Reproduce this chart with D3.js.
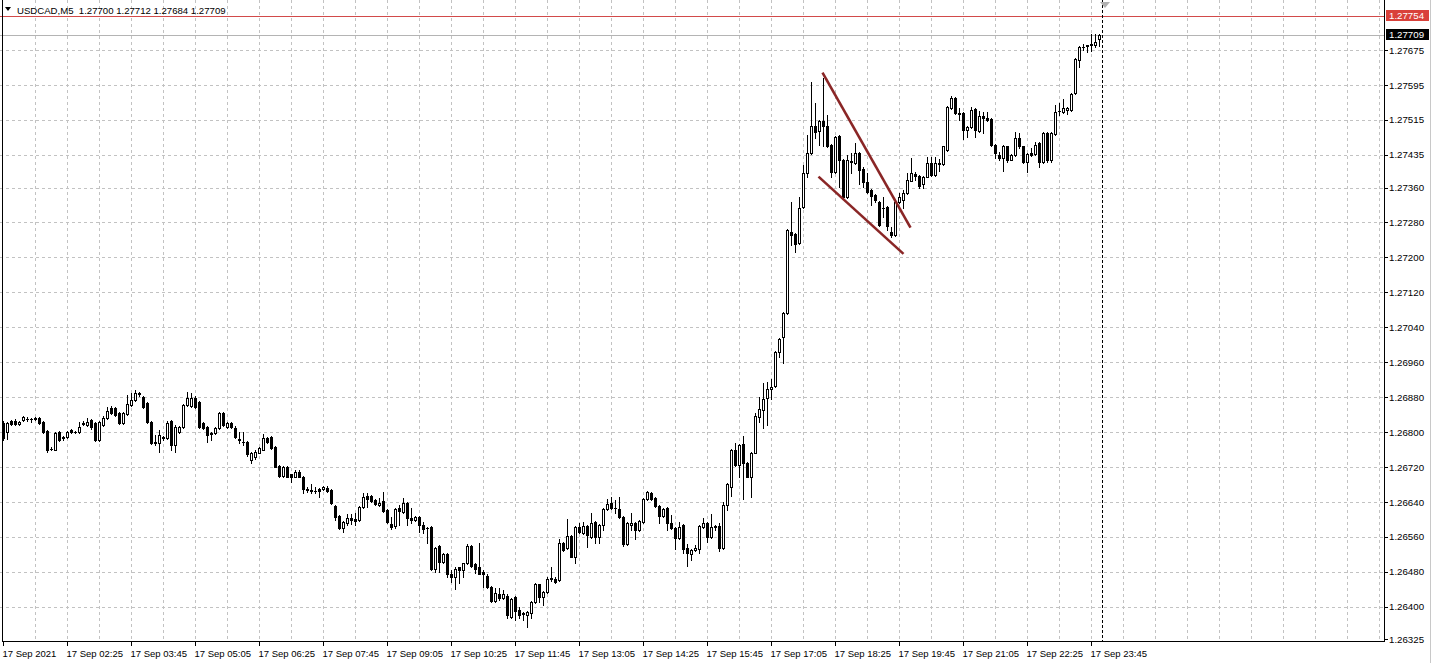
<!DOCTYPE html>
<html><head><meta charset="utf-8">
<script src="https://cdn.jsdelivr.net/npm/d3@7/dist/d3.min.js"></script>
<style>
html,body{margin:0;padding:0;background:#fff;overflow:hidden;}
svg{display:block;font-family:"Liberation Sans",Arial,sans-serif;}
</style></head><body>
<svg id="c" width="1433" height="663"></svg>
<script>
// ---------------- DATA ----------------
const symbol = "USDCAD,M5";
const lastOHLC = [1.27700, 1.27712, 1.27684, 1.27709];
const askPrice = 1.27754;
const bidPrice = 1.27709;

const opens = [
1.26821,1.26800,1.26826,1.26826,1.26819,1.26828,1.26830,1.26830,1.26830,1.26833,
1.26823,1.26803,1.26761,1.26760,1.26800,1.26787,1.26789,1.26805,1.26800,1.26800,
1.26819,1.26817,1.26828,1.26821,1.26782,1.26817,1.26833,1.26856,1.26856,1.26844,
1.26821,1.26842,1.26863,1.26874,1.26888,1.26881,1.26867,1.26823,1.26777,1.26775,
1.26787,1.26787,1.26826,1.26771,1.26800,1.26812,1.26863,1.26860,1.26879,1.26869,
1.26821,1.26812,1.26796,1.26798,1.26810,1.26844,1.26812,1.26821,1.26810,1.26782,
1.26777,1.26777,1.26737,1.26742,1.26753,1.26760,1.26787,1.26789,1.26766,1.26723,
1.26700,1.26721,1.26703,1.26698,1.26709,1.26698,1.26668,1.26666,1.26666,1.26670,
1.26670,1.26673,1.26668,1.26631,1.26608,1.26581,1.26592,1.26603,1.26601,1.26599,
1.26629,1.26654,1.26654,1.26645,1.26634,1.26643,1.26622,1.26590,1.26585,1.26627,
1.26617,1.26638,1.26603,1.26599,1.26606,1.26588,1.26581,1.26583,1.26487,1.26539,
1.26503,1.26520,1.26476,1.26469,1.26490,1.26485,1.26499,1.26539,1.26497,1.26490,
1.26480,1.26471,1.26446,1.26414,1.26430,1.26421,1.26425,1.26377,1.26423,1.26393,
1.26384,1.26382,1.26386,1.26411,1.26451,1.26423,1.26434,1.26464,1.26464,1.26462,
1.26546,1.26535,1.26562,1.26515,1.26583,1.26569,1.26585,1.26560,1.26594,1.26560,
1.26588,1.26624,1.26638,1.26627,1.26624,1.26606,1.26544,1.26588,1.26592,1.26576,
1.26594,1.26647,1.26661,1.26650,1.26631,1.26608,1.26627,1.26592,1.26581,1.26558,
1.26588,1.26535,1.26520,1.26531,1.26533,1.26583,1.26592,1.26560,1.26585,1.26585,
1.26535,1.26634,1.26675,1.26758,1.26725,1.26773,1.26730,1.26698,1.26753,1.26835,
1.26851,1.26879,1.26899,1.26906,1.26984,1.27018,1.27073,1.27259,1.27254,1.27233,
1.27316,1.27394,1.27440,1.27501,1.27490,1.27513,1.27501,1.27458,1.27396,1.27478,
1.27424,1.27339,1.27419,1.27417,1.27440,1.27403,1.27373,1.27355,1.27344,1.27327,
1.27314,1.27316,1.27259,1.27252,1.27327,1.27332,1.27348,1.27376,1.27392,1.27387,
1.27367,1.27385,1.27417,1.27389,1.27415,1.27415,1.27447,1.27543,1.27566,1.27529,
1.27531,1.27492,1.27499,1.27540,1.27490,1.27524,1.27520,1.27517,1.27458,1.27435,
1.27428,1.27454,1.27424,1.27435,1.27474,1.27454,1.27419,1.27440,1.27437,1.27463,
1.27419,1.27485,1.27422,1.27483,1.27536,1.27533,1.27538,1.27538,1.27577,1.27653,
1.27682,1.27685,1.27687,1.27687,1.27700];

const highs = [
1.26826,1.26823,1.26828,1.26830,1.26826,1.26837,1.26835,1.26832,1.26835,1.26835,
1.26826,1.26805,1.26766,1.26800,1.26803,1.26790,1.26803,1.26807,1.26803,1.26823,
1.26826,1.26833,1.26830,1.26823,1.26826,1.26837,1.26858,1.26860,1.26858,1.26846,
1.26846,1.26886,1.26890,1.26897,1.26892,1.26883,1.26869,1.26826,1.26794,1.26805,
1.26791,1.26826,1.26828,1.26817,1.26814,1.26865,1.26892,1.26890,1.26883,1.26872,
1.26823,1.26814,1.26800,1.26812,1.26846,1.26846,1.26823,1.26823,1.26814,1.26800,
1.26800,1.26780,1.26755,1.26758,1.26766,1.26796,1.26789,1.26791,1.26768,1.26725,
1.26723,1.26723,1.26705,1.26712,1.26712,1.26700,1.26675,1.26682,1.26675,1.26673,
1.26677,1.26677,1.26670,1.26634,1.26611,1.26597,1.26613,1.26613,1.26615,1.26631,
1.26661,1.26661,1.26657,1.26647,1.26650,1.26663,1.26624,1.26606,1.26627,1.26634,
1.26650,1.26640,1.26627,1.26608,1.26608,1.26594,1.26583,1.26585,1.26537,1.26542,
1.26522,1.26522,1.26485,1.26490,1.26492,1.26501,1.26544,1.26542,1.26499,1.26546,
1.26483,1.26476,1.26448,1.26444,1.26444,1.26439,1.26428,1.26421,1.26425,1.26400,
1.26388,1.26391,1.26414,1.26455,1.26453,1.26437,1.26469,1.26490,1.26467,1.26555,
1.26548,1.26601,1.26565,1.26585,1.26592,1.26594,1.26588,1.26615,1.26597,1.26590,
1.26627,1.26647,1.26652,1.26645,1.26652,1.26608,1.26594,1.26615,1.26594,1.26599,
1.26650,1.26666,1.26663,1.26652,1.26634,1.26627,1.26629,1.26611,1.26583,1.26594,
1.26590,1.26544,1.26533,1.26542,1.26588,1.26603,1.26594,1.26613,1.26588,1.26592,
1.26640,1.26684,1.26761,1.26775,1.26773,1.26791,1.26732,1.26755,1.26844,1.26881,
1.26913,1.26915,1.26922,1.26986,1.27016,1.27075,1.27266,1.27327,1.27257,1.27339,
1.27412,1.27481,1.27602,1.27554,1.27515,1.27611,1.27526,1.27460,1.27478,1.27481,
1.27426,1.27435,1.27440,1.27462,1.27442,1.27406,1.27394,1.27357,1.27346,1.27330,
1.27339,1.27318,1.27270,1.27330,1.27348,1.27355,1.27394,1.27428,1.27396,1.27389,
1.27387,1.27431,1.27431,1.27431,1.27426,1.27456,1.27547,1.27570,1.27568,1.27543,
1.27533,1.27501,1.27545,1.27543,1.27536,1.27533,1.27533,1.27520,1.27460,1.27442,
1.27458,1.27456,1.27437,1.27488,1.27485,1.27456,1.27440,1.27451,1.27465,1.27465,
1.27488,1.27488,1.27488,1.27550,1.27554,1.27563,1.27545,1.27577,1.27657,1.27685,
1.27689,1.27687,1.27712,1.27712,1.27712];

const lows = [
1.26782,1.26784,1.26817,1.26817,1.26817,1.26826,1.26826,1.26823,1.26828,1.26819,
1.26798,1.26755,1.26758,1.26758,1.26780,1.26782,1.26787,1.26798,1.26798,1.26798,
1.26817,1.26814,1.26807,1.26780,1.26780,1.26814,1.26830,1.26842,1.26837,1.26819,
1.26819,1.26840,1.26860,1.26872,1.26883,1.26856,1.26821,1.26773,1.26771,1.26755,
1.26782,1.26784,1.26760,1.26755,1.26798,1.26810,1.26860,1.26858,1.26856,1.26810,
1.26807,1.26777,1.26782,1.26796,1.26807,1.26814,1.26810,1.26810,1.26787,1.26775,
1.26771,1.26746,1.26730,1.26739,1.26751,1.26758,1.26775,1.26761,1.26719,1.26698,
1.26698,1.26696,1.26686,1.26696,1.26696,1.26661,1.26663,1.26661,1.26661,1.26652,
1.26668,1.26663,1.26636,1.26599,1.26578,1.26571,1.26588,1.26590,1.26588,1.26597,
1.26627,1.26629,1.26640,1.26634,1.26631,1.26617,1.26592,1.26578,1.26581,1.26588,
1.26615,1.26588,1.26592,1.26597,1.26571,1.26569,1.26546,1.26485,1.26480,1.26480,
1.26501,1.26469,1.26457,1.26441,1.26455,1.26469,1.26497,1.26490,1.26478,1.26474,
1.26446,1.26444,1.26411,1.26411,1.26416,1.26418,1.26375,1.26375,1.26370,1.26375,
1.26370,1.26354,1.26375,1.26409,1.26411,1.26405,1.26432,1.26460,1.26455,1.26460,
1.26528,1.26533,1.26513,1.26501,1.26569,1.26567,1.26537,1.26558,1.26546,1.26546,
1.26576,1.26622,1.26624,1.26615,1.26603,1.26539,1.26542,1.26576,1.26555,1.26574,
1.26592,1.26645,1.26645,1.26629,1.26592,1.26606,1.26576,1.26578,1.26533,1.26555,
1.26524,1.26494,1.26508,1.26528,1.26524,1.26581,1.26548,1.26558,1.26576,1.26528,
1.26533,1.26622,1.26654,1.26723,1.26698,1.26647,1.26696,1.26652,1.26751,1.26823,
1.26810,1.26817,1.26876,1.26904,1.26971,1.26959,1.27071,1.27229,1.27213,1.27231,
1.27314,1.27385,1.27437,1.27474,1.27458,1.27456,1.27453,1.27385,1.27394,1.27362,
1.27337,1.27337,1.27394,1.27415,1.27367,1.27362,1.27348,1.27321,1.27327,1.27272,
1.27293,1.27263,1.27247,1.27250,1.27325,1.27314,1.27346,1.27374,1.27378,1.27360,
1.27360,1.27383,1.27387,1.27387,1.27399,1.27412,1.27444,1.27540,1.27529,1.27515,
1.27472,1.27476,1.27497,1.27476,1.27488,1.27485,1.27513,1.27454,1.27428,1.27424,
1.27399,1.27419,1.27422,1.27433,1.27451,1.27417,1.27396,1.27433,1.27435,1.27408,
1.27417,1.27419,1.27419,1.27481,1.27526,1.27531,1.27529,1.27536,1.27575,1.27635,
1.27675,1.27671,1.27673,1.27682,1.27684];

const closes = [
1.26787,1.26821,1.26819,1.26819,1.26823,1.26835,1.26830,1.26830,1.26833,1.26821,
1.26800,1.26758,1.26762,1.26798,1.26782,1.26788,1.26800,1.26800,1.26801,1.26812,
1.26820,1.26823,1.26812,1.26782,1.26823,1.26833,1.26849,1.26844,1.26840,1.26821,
1.26844,1.26865,1.26874,1.26890,1.26889,1.26858,1.26823,1.26775,1.26775,1.26794,
1.26788,1.26821,1.26771,1.26812,1.26812,1.26863,1.26879,1.26879,1.26858,1.26812,
1.26810,1.26794,1.26797,1.26810,1.26844,1.26817,1.26821,1.26812,1.26789,1.26783,
1.26778,1.26749,1.26753,1.26755,1.26764,1.26787,1.26777,1.26764,1.26721,1.26700,
1.26721,1.26698,1.26698,1.26709,1.26698,1.26670,1.26669,1.26667,1.26666,1.26666,
1.26675,1.26666,1.26638,1.26606,1.26581,1.26594,1.26603,1.26599,1.26597,1.26629,
1.26652,1.26647,1.26643,1.26636,1.26638,1.26620,1.26594,1.26583,1.26624,1.26620,
1.26638,1.26603,1.26599,1.26606,1.26588,1.26578,1.26580,1.26487,1.26535,1.26503,
1.26520,1.26474,1.26469,1.26487,1.26483,1.26499,1.26539,1.26494,1.26487,1.26476,
1.26476,1.26446,1.26414,1.26432,1.26421,1.26430,1.26382,1.26418,1.26391,1.26382,
1.26385,1.26388,1.26411,1.26451,1.26423,1.26434,1.26464,1.26465,1.26457,1.26546,
1.26531,1.26562,1.26515,1.26583,1.26571,1.26585,1.26565,1.26592,1.26560,1.26588,
1.26624,1.26636,1.26627,1.26626,1.26606,1.26544,1.26592,1.26592,1.26576,1.26597,
1.26647,1.26663,1.26647,1.26631,1.26608,1.26624,1.26592,1.26581,1.26558,1.26583,
1.26533,1.26524,1.26531,1.26535,1.26585,1.26592,1.26560,1.26583,1.26583,1.26535,
1.26634,1.26680,1.26760,1.26725,1.26771,1.26730,1.26698,1.26753,1.26837,1.26853,
1.26876,1.26899,1.26904,1.26984,1.27014,1.27073,1.27263,1.27252,1.27231,1.27314,
1.27394,1.27440,1.27501,1.27488,1.27513,1.27501,1.27456,1.27396,1.27476,1.27424,
1.27339,1.27424,1.27420,1.27440,1.27401,1.27373,1.27350,1.27341,1.27332,1.27275,
1.27313,1.27272,1.27252,1.27327,1.27339,1.27348,1.27378,1.27394,1.27387,1.27364,
1.27385,1.27417,1.27389,1.27417,1.27416,1.27454,1.27545,1.27566,1.27531,1.27530,
1.27492,1.27499,1.27538,1.27492,1.27524,1.27520,1.27515,1.27458,1.27440,1.27428,
1.27456,1.27424,1.27435,1.27474,1.27454,1.27419,1.27437,1.27435,1.27458,1.27419,
1.27485,1.27422,1.27485,1.27533,1.27535,1.27543,1.27543,1.27575,1.27655,1.27682,
1.27683,1.27686,1.27688,1.27694,1.27709];

const priceTicks = [1.27675,1.27595,1.27515,1.27435,1.27360,1.27280,1.27200,1.27120,1.27040,
  1.26960,1.26880,1.26800,1.26720,1.26640,1.26560,1.26480,1.26400,1.26325];

const timeTickIndex = [0,16,32,48,64,80,96,112,128,144,160,176,192,208,224,240,256,272];
const timeTickLabels = ["17 Sep 2021","17 Sep 02:25","17 Sep 03:45","17 Sep 05:05","17 Sep 06:25",
  "17 Sep 07:45","17 Sep 09:05","17 Sep 10:25","17 Sep 11:45","17 Sep 13:05","17 Sep 14:25",
  "17 Sep 15:45","17 Sep 17:05","17 Sep 18:25","17 Sep 19:45","17 Sep 21:05","17 Sep 22:25","17 Sep 23:45"];

// trend lines: [bar index, price] endpoints
const trendLines = [
  [[204.75, 1.27623], [226.75, 1.27268]],
  [[203.75, 1.27385], [225.0, 1.27208]]
];
const separatorIndex = 275;   // 18 Sep 00:00 period separator
const gridEveryBars = 8;

// ---------------- CHART ----------------
const W = 1433, H = 663;
const plotRight = 1384, plotBottom = 641;
const svg = d3.select("#c");

const x = d3.scaleLinear().domain([0, 345]).range([3, 1383]);
const y = d3.scaleLinear().domain([1.263215, 1.277895]).range([plotBottom, 0]);

svg.append("rect").attr("width", W).attr("height", H).attr("fill", "#fff");

const grid = svg.append("g").attr("shape-rendering", "crispEdges")
  .attr("stroke", "#c2c2c2").attr("stroke-dasharray", "3,3").attr("stroke-width", 1);
// vertical grid
const vIdx = d3.range(gridEveryBars, 345, gridEveryBars);
grid.selectAll("line.v").data(vIdx).join("line")
  .attr("x1", d => Math.round(x(d)) + 0.5).attr("x2", d => Math.round(x(d)) + 0.5)
  .attr("y1", 0).attr("y2", plotBottom);
// horizontal grid
grid.selectAll("line.h").data(priceTicks.slice(0, -1)).join("line")
  .attr("x1", 0).attr("x2", plotRight)
  .attr("y1", d => Math.round(y(d)) + 0.5).attr("y2", d => Math.round(y(d)) + 0.5);

// bid / ask lines
svg.append("line").attr("x1", 0).attr("x2", plotRight)
  .attr("y1", Math.round(y(bidPrice)) + 0.5).attr("y2", Math.round(y(bidPrice)) + 0.5)
  .attr("stroke", "#b4b4b4").attr("shape-rendering", "crispEdges");
svg.append("line").attr("x1", 0).attr("x2", plotRight)
  .attr("y1", Math.round(y(askPrice)) + 0.5).attr("y2", Math.round(y(askPrice)) + 0.5)
  .attr("stroke", "#d24a4a").attr("shape-rendering", "crispEdges");

// period separator
svg.append("line")
  .attr("x1", Math.round(x(separatorIndex)) - 0.5).attr("x2", Math.round(x(separatorIndex)) - 0.5)
  .attr("y1", 0).attr("y2", plotBottom)
  .attr("stroke", "#000").attr("stroke-dasharray", "3,2").attr("shape-rendering", "crispEdges");

// candles
const bars = d3.range(opens.length).map(i => ({i, o: opens[i], h: highs[i], l: lows[i], c: closes[i]}));
const cg = svg.append("g").attr("shape-rendering", "crispEdges");
cg.selectAll("rect.w").data(bars).join("rect")
  .attr("x", d => Math.round(x(d.i)))
  .attr("y", d => Math.round(y(d.h)))
  .attr("width", 1)
  .attr("height", d => Math.round(y(d.l)) - Math.round(y(d.h)) + 1)
  .attr("fill", "#000");
cg.selectAll("rect.b").data(bars).join("rect")
  .attr("x", d => Math.round(x(d.i)) - 1)
  .attr("y", d => Math.round(y(Math.max(d.o, d.c))))
  .attr("width", 3)
  .attr("height", d => Math.round(y(Math.min(d.o, d.c))) - Math.round(y(Math.max(d.o, d.c))) + 1)
  .attr("fill", "#000");
cg.selectAll("rect.in").data(bars.filter(d => d.c > d.o &&
    Math.round(y(d.o)) - Math.round(y(d.c)) >= 2)).join("rect")
  .attr("x", d => Math.round(x(d.i)))
  .attr("y", d => Math.round(y(d.c)) + 1)
  .attr("width", 1)
  .attr("height", d => Math.round(y(d.o)) - Math.round(y(d.c)) - 1)
  .attr("fill", "#fff");

// trend lines
svg.append("g").selectAll("line").data(trendLines).join("line")
  .attr("x1", d => x(d[0][0]) + 0.5).attr("y1", d => y(d[0][1]))
  .attr("x2", d => x(d[1][0]) + 0.5).attr("y2", d => y(d[1][1]))
  .attr("stroke", "#8a2626").attr("stroke-width", 2.6);

// chart shift marker
svg.append("path").attr("d", "M1100,2 L1110,2 L1105,8 Z").attr("fill", "#b0b0b0");

// borders
svg.append("path")
  .attr("d", `M2.5,0 V${plotBottom + 0.5} H${plotRight + 0.5} V0`)
  .attr("fill", "none").attr("stroke", "#000").attr("shape-rendering", "crispEdges");
svg.append("line").attr("x1", 1430.5).attr("x2", 1430.5).attr("y1", 0).attr("y2", H)
  .attr("stroke", "#c8c8c8").attr("shape-rendering", "crispEdges");

// right price axis
const ay = svg.append("g").attr("transform", `translate(${plotRight},0)`)
  .call(d3.axisRight(y).tickValues(priceTicks).tickSize(4).tickSizeOuter(0).tickPadding(1)
    .tickFormat(d => d.toFixed(5)));
ay.select(".domain").remove();
ay.selectAll("line").attr("shape-rendering", "crispEdges");
ay.selectAll("text").attr("font-size", "9.7px").attr("font-family", "Liberation Sans, Arial, sans-serif").attr("fill", "#000");

// bottom time axis
const ax = svg.append("g").attr("transform", `translate(0,${plotBottom})`)
  .call(d3.axisBottom(x).tickValues(timeTickIndex).tickSize(5).tickSizeOuter(0)
    .tickFormat((d, i) => timeTickLabels[i]));
ax.select(".domain").remove();
ax.selectAll("line").attr("shape-rendering", "crispEdges");
ax.selectAll("text").attr("text-anchor", "start").attr("x", -1).attr("y", 9)
  .attr("font-size", "9.5px").attr("font-family", "Liberation Sans, Arial, sans-serif").attr("fill", "#000");

// price labels (ask / bid)
function priceTag(p, bg) {
  const yy = Math.round(y(p));
  svg.append("rect").attr("x", 1386).attr("y", yy - 6).attr("width", 43).attr("height", 11)
    .attr("fill", bg).attr("shape-rendering", "crispEdges");
  svg.append("text").attr("x", 1389).attr("y", yy).attr("dy", "0.34em")
    .attr("font-size", "9.7px").attr("fill", "#fff").text(p.toFixed(5));
}
priceTag(askPrice, "#d9413a");
priceTag(bidPrice, "#000");

// header
svg.append("path").attr("d", "M5,7 L11,7 L8,11 Z").attr("fill", "#000");
svg.append("text").attr("x", 17).attr("y", 14).attr("font-size", "9.6px")
  .style("white-space", "pre").attr("fill", "#000")
  .text(symbol + "  " + lastOHLC.map(v => v.toFixed(5)).join(" "));
</script>
</body></html>
